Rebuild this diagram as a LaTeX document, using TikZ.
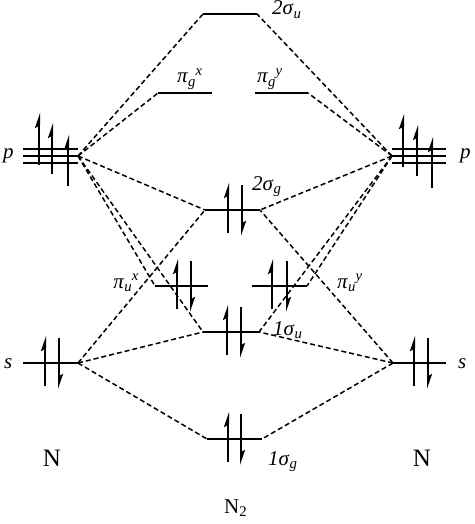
\documentclass[tikz,border=0pt]{standalone}
\usepackage{fontspec}
\setmainfont{Liberation Serif}
\usetikzlibrary{arrows.meta}
\newcommand{\orbsub}[2]{\textit{#1}\textsubscript{\textit{#2}}}
\newcommand{\orbsup}[3]{\textit{#1}\textsubscript{\textit{#2}}\kern-0.5pt\textsuperscript{\textit{#3}}}
\begin{document}
\begin{tikzpicture}[x=1pt,y=-1pt,
  lvl/.style={line width=2.2pt},
  mo/.style={dash pattern=on 5pt off 3pt, line width=1.5pt},
  elec/.style={line width=2pt, -{Stealth[left,length=12pt,width=8pt,inset=2pt]}},
  lab/.style={font=\fontsize{21}{25}\selectfont, inner sep=0pt},
  atom/.style={font=\fontsize{25}{30}\selectfont, inner sep=0pt},
]
\useasboundingbox (0,0) rectangle (474,524);
% level end points
\coordinate (pL) at (78,156);  \coordinate (sL) at (78,363);
\coordinate (pR) at (392,156); \coordinate (sR) at (393,363);
\coordinate (sutwoa) at (203,14);  \coordinate (sutwob) at (257,14);
\coordinate (pgxa) at (158,93);    \coordinate (pgxb) at (212,93);
\coordinate (pgya) at (255,93);    \coordinate (pgyb) at (308,93);
\coordinate (sgtwoa) at (205,210); \coordinate (sgtwob) at (260,210);
\coordinate (puxa) at (155,286);   \coordinate (puxb) at (208,286);
\coordinate (puya) at (252,286);   \coordinate (puyb) at (307,286);
\coordinate (suonea) at (203,332); \coordinate (suoneb) at (259,332);
\coordinate (sgonea) at (207,439); \coordinate (sgoneb) at (262,439);
% dashed correlation lines
\foreach \t in {sutwoa,pgxa,sgtwoa,puxa,suonea} \draw[mo] (pL) -- (\t);
\foreach \t in {sgtwoa,suonea,sgonea} \draw[mo] (sL) -- (\t);
\foreach \t in {sutwob,pgyb,sgtwob,puyb,suoneb} \draw[mo] (pR) -- (\t);
\foreach \t in {sgtwob,suoneb,sgoneb} \draw[mo] (sR) -- (\t);
% atomic levels
\foreach \y in {149,156,163} {
  \draw[lvl] (23,\y) -- (78,\y);
  \draw[lvl] (392,\y) -- (446,\y);
}
\draw[lvl] (23,363) -- (sL);
\draw[lvl] (sR) -- (446,363);
% molecular levels
\draw[lvl] (sutwoa) -- (sutwob);
\draw[lvl] (pgxa) -- (pgxb);
\draw[lvl] (pgya) -- (pgyb);
\draw[lvl] (sgtwoa) -- (sgtwob);
\draw[lvl] (puxa) -- (puxb);
\draw[lvl] (puya) -- (puyb);
\draw[lvl] (suonea) -- (suoneb);
\draw[lvl] (sgonea) -- (sgoneb);
% electrons: p atoms
\draw[elec] (39,165) -- (39,113);
\draw[elec] (52,174) -- (52,123);
\draw[elec] (68,186) -- (68,135);
\draw[elec] (403,167) -- (403,114);
\draw[elec] (417,176) -- (417,125);
\draw[elec] (432,188) -- (432,137);
% electron pairs
\foreach \a/\b/\y in {45/59/363, 414/428/363, 228/242/210, 177/191/286, 272/287/286, 227/241/332, 228/241/439} {
  \draw[elec] (\a,\y+23) -- (\a,\y-27);
  \draw[elec] (\b,\y-25) -- (\b,\y+26);
}
% labels
\node[lab, anchor=base west] (lpL) at (3,158) {\textit{p}};
\node[lab, anchor=base west] (lsL) at (4,368) {\textit{s}};
\node[lab, anchor=base west] (lpR) at (460,158) {\textit{p}};
\node[lab, anchor=base west] (lsR) at (458,368) {\textit{s}};
\node[lab, anchor=base west] (lsutwo) at (272,15) {\orbsub{2σ}{u}};
\node[lab, anchor=base west] (lpgx) at (177,83) {\orbsup{π}{g}{x}};
\node[lab, anchor=base west] (lpgy) at (257,83) {\orbsup{π}{g}{y}};
\node[lab, anchor=base west] (lsgtwo) at (252,190) {\orbsub{2σ}{g}};
\node[lab, anchor=base east] (lpux) at (139,288) {\orbsup{π}{u}{x}};
\node[lab, anchor=base west] (lpuy) at (337,288) {\orbsup{π}{u}{y}};
\node[lab, anchor=base west] (lsuone) at (273,335) {\orbsub{1σ}{u}};
\node[lab, anchor=base west] (lsgone) at (268,465) {\orbsub{1σ}{g}};
\node[atom] (NL) at (52,458) {N};
\node[atom] (NR) at (422,458) {N};
\node[font=\fontsize{21}{25}\selectfont, inner sep=0pt, anchor=base west] (NN) at (224,513) {N\textsubscript{2}};
\end{tikzpicture}
\end{document}
